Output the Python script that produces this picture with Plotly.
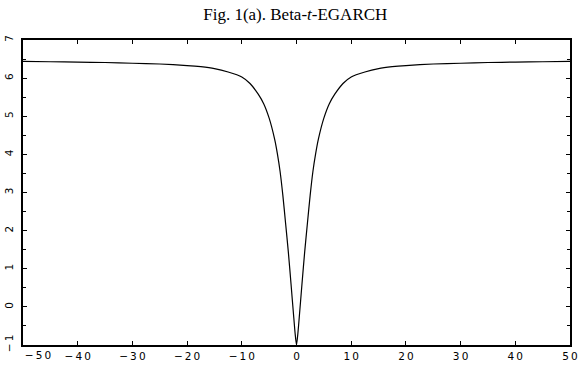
import plotly.graph_objects as go

x_vals = [-50, -45, -40, -35, -30, -25, -20, -17.5, -15, -12.5, -10, -8.5, -7, -6, -5, -4, -3.5, -3, -2.5, -2, -1.5, -1, -0.5, -0.25, 0,
          0.25, 0.5, 1, 1.5, 2, 2.5, 3, 3.5, 4, 5, 6, 7, 8.5, 10, 12.5, 15, 17.5, 20, 25, 30, 35, 40, 45, 50]
y_left = [6.44, 6.43, 6.42, 6.41, 6.39, 6.37, 6.33, 6.30, 6.25, 6.16, 6.03, 5.86, 5.58, 5.33, 4.95, 4.40, 4.02, 3.55, 2.93, 2.20, 1.45, 0.60, -0.28, -0.70, -1.0]
y_vals = y_left + y_left[-2::-1]

x_ticks = [-50, -40, -30, -20, -10, 0, 10, 20, 30, 40, 50]
x_ticktext = ["", "\u2212\u20094\u20090", "\u2212\u20093\u20090", "\u2212\u20092\u20090",
              "\u2212\u20091\u20090", "0", "1\u20090", "2\u20090", "3\u20090", "4\u20090", "5\u20090"]
x_first_tick = [-50]
x_first_text = ["\u2212\u20095\u20090"]
y_ticks = [-1, 0, 1, 2, 3, 4, 5, 6, 7]
y_ticktext = ["\u2212\u20091", "0", "1", "2", "3", "4", "5", "6", "7"]

fig = go.Figure()
fig.add_trace(go.Scatter(x=x_vals, y=y_vals, mode="lines", line=dict(color="black", width=1.2, shape="spline", smoothing=0.6),
                         showlegend=False, hoverinfo="skip"))

tickfont = dict(family="DejaVu Sans, Arial, sans-serif", size=10.5, color="black")
fig.update_layout(
    width=579, height=370,
    margin=dict(l=23, r=9, t=40, b=25),
    paper_bgcolor="white", plot_bgcolor="white",
    title=dict(text="Fig. 1(a). Beta-<i>t</i>-EGARCH", x=0.51, xanchor="center", y=0.962, yanchor="middle",
               font=dict(family="Liberation Serif, DejaVu Serif, serif", size=17, color="black")),
    xaxis=dict(range=[-50, 50], tickvals=x_ticks, ticktext=x_ticktext, showgrid=False, zeroline=False,
               showline=True, linecolor="black", linewidth=2, mirror="ticks", automargin=False,
               ticks="inside", ticklen=4, tickcolor="black", tickwidth=1, tickfont=tickfont),
    xaxis2=dict(range=[-50, 50], overlaying="x", side="bottom", tickvals=x_first_tick, ticktext=x_first_text,
                ticklabelshift=15, ticklabelstandoff=2, ticklabeloverflow="allow", showgrid=False, zeroline=False,
                showline=False, ticks="", automargin=False, tickfont=tickfont),
    yaxis=dict(range=[-1, 7], tickvals=y_ticks, ticktext=y_ticktext, showgrid=False, zeroline=False,
               showline=True, linecolor="black", linewidth=2, mirror="ticks", automargin=False,
               ticklabeloverflow="allow",
               ticks="inside", ticklen=4, tickcolor="black", tickwidth=1, tickfont=tickfont, tickangle=-90,
               ticklabelstandoff=4,
               minor=dict(dtick=0.5, ticks="inside", ticklen=3, tickcolor="black", showgrid=False)),
)
fig.add_trace(go.Scatter(x=[], y=[], xaxis="x2", showlegend=False, hoverinfo="skip"))
fig.write_html("out.html")
